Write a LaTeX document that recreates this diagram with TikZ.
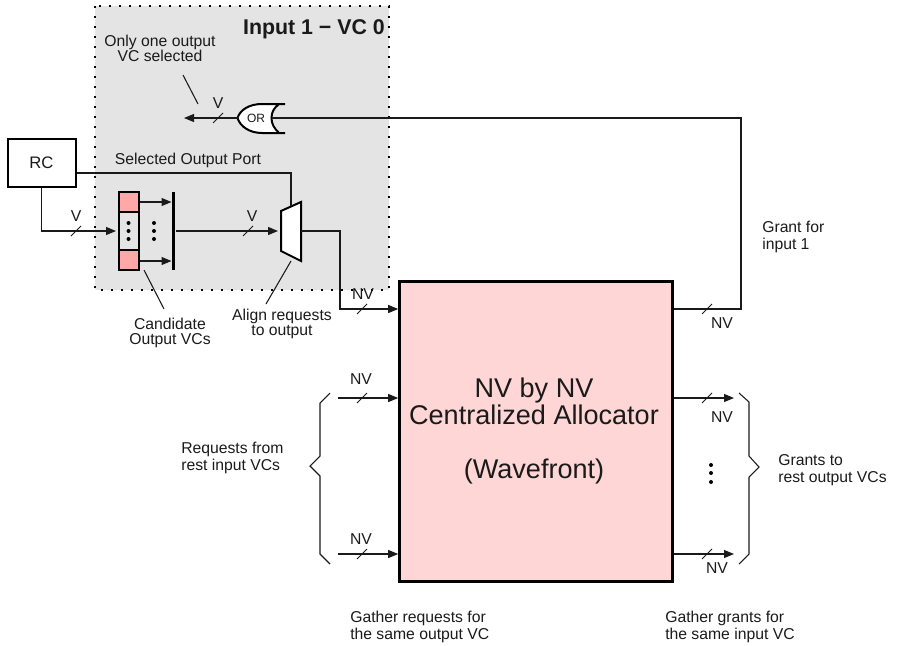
\documentclass[tikz,border=0pt]{standalone}
\usepackage{fontspec}
\setmainfont{Liberation Sans}
\usetikzlibrary{arrows.meta,calc}
\definecolor{panelgray}{HTML}{E4E4E4}
\definecolor{regpink}{HTML}{FFA8A8}
\definecolor{allocpink}{HTML}{FFD6D6}
\definecolor{ink}{HTML}{1A1A1A}
\tikzset{
  wire/.style={line width=0.8pt,draw=ink},
  flow/.style={wire,-{Triangle[length=7.5pt,width=6pt]}},
  heavy/.style={line width=1.5pt,draw=black},
  lab/.style={font=\fontsize{11.8}{11.3}\selectfont,text=ink,align=center,inner sep=0pt},
  widelab/.style={lab,font=\fontsize{11.8}{12.75}\selectfont,align=left,anchor=west},
  dotmark/.style={circle,fill=black,inner sep=0pt,minimum size=3pt},
  slash/.style={wire,line width=0.6pt},
}
\newcommand{\busmark}[1]{\draw[slash] ($(#1)+(-5,5)$) -- ($(#1)+(5,-5)$);}
\begin{document}
\begin{tikzpicture}[x=0.75pt,y=-0.75pt]
\useasboundingbox (0,0) rectangle (904,646);
% panel
\fill[panelgray] (95,6) rectangle (389,290);
\draw[line width=1.5pt,dash pattern=on 1.5pt off 6pt,draw=black] (95,6) rectangle (389,290);
\node[lab,font=\fontsize{16}{18}\selectfont\bfseries,anchor=east] (title) at (385,29) {Input 1 − VC 0};
% boxes
\node[heavy,draw,fill=white,minimum width=51pt,minimum height=36pt,inner sep=0pt,lab,font=\fontsize{12.5}{13}\selectfont,text=ink] (rc) at (41.5,163) {RC};
\node[draw=black,line width=2.2pt,fill=allocpink,minimum width=204.5pt,minimum height=225.5pt,inner sep=0pt] (alloc) at (536,431.5) {};
\node[inner sep=0pt,align=center,font=\fontsize{20.3}{20.25}\selectfont,text=ink] (alloctext) at (534,431) {NV by NV\\Centralized Allocator\\[20.75pt](Wavefront)};
% register
\fill[regpink] (118.5,192) rectangle (138.5,212);
\fill[regpink] (118.5,250) rectangle (138.5,270);
\node[heavy,draw,minimum width=15pt,minimum height=58.5pt,inner sep=0pt] (reg) at (128.5,231) {};
\draw[heavy] (reg.west |- 0,212) -- (reg.east |- 0,212);
\draw[heavy] (reg.west |- 0,250) -- (reg.east |- 0,250);
\node[dotmark] (r1) at (128.5,223) {};
\node[dotmark] (r2) at (128.5,231) {};
\node[dotmark] (r3) at (128.5,239) {};
\node[dotmark] (m1) at (154,223) {};
\node[dotmark] (m2) at (154,231) {};
\node[dotmark] (m3) at (154,239) {};
% bar
\node[fill=black,minimum width=2.6pt,minimum height=59pt,inner sep=0pt] (bar) at (173.5,231) {};
% mux
\coordinate (mA) at (281,211);
\coordinate (mB) at (301,202);
\coordinate (mC) at (301,261);
\coordinate (mD) at (281,251);
\coordinate (muxin) at (278,231);
\coordinate (muxout) at (301,231);
\coordinate (muxsel) at (291,206);
\coordinate (muxbot) at (291,261);
\draw[heavy,fill=white,line join=miter] (mA) -- (mB) -- (mC) -- (mD) -- cycle;
% OR gate
\coordinate (orback) at (271.5,118);
\coordinate (orfront) at (237.5,118);
\draw[heavy,fill=white] (285,104) -- (262,104) .. controls (249,104) and (240,110) .. (orfront) .. controls (240,126) and (249,133) .. (262,133) -- (285,133) -- (279,133) .. controls (274,128) and (271.5,124) .. (orback) .. controls (271.5,112) and (274,108) .. (279,104) -- cycle;
\node[lab,font=\fontsize{9}{10}\selectfont] (ortext) at (256,118.5) {OR};
% connectors
\coordinate (selturn) at (291,173);
\draw[wire] (rc.east |- selturn) -- (selturn) -- (muxsel);
\coordinate (rcturn) at (41.5,231);
\coordinate (regin) at (116,231);
\draw[flow] (rc.south) -- (rcturn) -- (regin);
\coordinate (a1s) at (140,202);
\coordinate (a2s) at (140,261);
\draw[flow] (a1s) -- (bar.west |- a1s);
\draw[flow] (a2s) -- (bar.west |- a2s);
\draw[flow] (bar.east) -- (muxin);
\coordinate (t1) at (340,231);
\coordinate (t2) at (340,309);
\draw[flow] (muxout) -- (t1) -- (t2) -- (alloc.west |- t2);
\coordinate (gt1) at (741,309);
\coordinate (gt2) at (741,118);
\draw[wire] (alloc.east |- gt1) -- (gt1) -- (gt2) -- (orback);
\coordinate (orout) at (184,118);
\draw[flow] (orfront) -- (orout);
% side arrows
\coordinate (l1) at (338,398);
\coordinate (l2) at (338,554);
\coordinate (r1e) at (734,398);
\coordinate (r2e) at (734,554);
\draw[flow] (l1) -- (alloc.west |- l1);
\draw[flow] (l2) -- (alloc.west |- l2);
\draw[flow] (alloc.east |- r1e) -- (r1e);
\draw[flow] (alloc.east |- r2e) -- (r2e);
% bus marks
\coordinate (b1) at (76,231); \busmark{b1}
\coordinate (b2) at (248,231); \busmark{b2}
\coordinate (b3) at (218,118); \busmark{b3}
\coordinate (b4) at (362,309); \busmark{b4}
\coordinate (b5) at (707,309); \busmark{b5}
\coordinate (b6) at (362,398); \busmark{b6}
\coordinate (b7) at (362,554); \busmark{b7}
\coordinate (b8) at (707,398); \busmark{b8}
\coordinate (b9) at (707,554); \busmark{b9}
% braces
\draw[wire,line join=miter] (330,393) -- (320,403) -- (320,456) -- (310,466) -- (320,476) -- (320,554) -- (330,564);
\draw[wire,line join=miter] (739,393) -- (749,402) -- (749,456) -- (759,467) -- (749,477) -- (749,554) -- (739,564);
% output dots
\node[dotmark] (o1) at (711,465) {};
\node[dotmark] (o2) at (711,473) {};
\node[dotmark] (o3) at (711,482) {};
% pointers
\coordinate (p1a) at (183,75);
\coordinate (p1b) at (198,104);
\draw[wire] (p1a) -- (p1b);
\coordinate (p2a) at (144,270);
\coordinate (p2b) at (164,309);
\draw[wire] (p2a) -- (p2b);
\coordinate (p3b) at (266,304);
\draw[wire] (muxbot) -- (p3b);
% labels
\node[lab] (t1l) at (160,48) {Only one output\\VC selected};
\node[lab] (tV1) at (218,103) {V};
\node[lab] (tsel) at (188,160) {Selected Output Port};
\node[lab] (tV2) at (76,216) {V};
\node[lab] (tV3) at (252,216) {V};
\node[lab,font=\fontsize{11.8}{11.8}\selectfont] (tcand) at (170,333) {Candidate\\Output VCs};
\node[lab] (talign) at (282,324) {Align requests\\to output};
\node[lab] (tnv1) at (363,294) {NV};
\node[lab] (tnv2) at (722,323) {NV};
\node[lab] (tnv3) at (361,379) {NV};
\node[lab] (tnv4) at (361,539) {NV};
\node[lab] (tnv5) at (722,417) {NV};
\node[lab] (tnv6) at (717,568) {NV};
\node[widelab] (tgrant) at (762,237) {Grant for\\input 1};
\node[widelab] (treq) at (181,458) {Requests from\\rest input VCs};
\node[widelab] (tgr) at (778,470.5) {Grants to\\rest output VCs};
\node[widelab] (tg1) at (350,627.4) {Gather requests for\\the same output VC};
\node[widelab] (tg2) at (665,627.4) {Gather grants for\\the same input VC};
\end{tikzpicture}
\end{document}
